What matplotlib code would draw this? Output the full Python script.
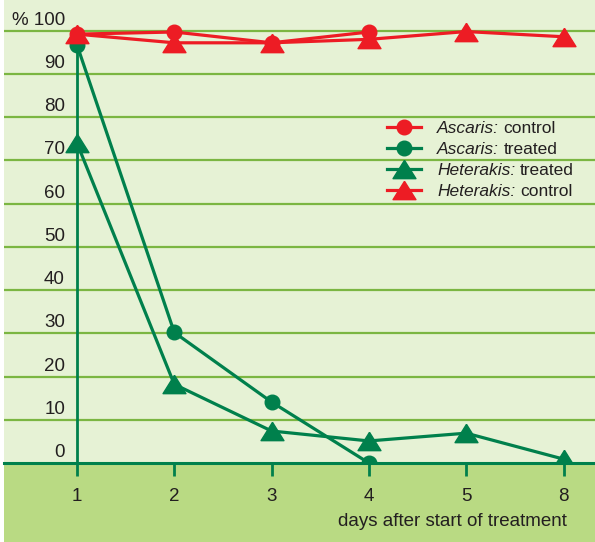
import matplotlib
matplotlib.use("Agg")
import matplotlib.pyplot as plt
import matplotlib.transforms as mtransforms
from matplotlib.patches import Rectangle
import numpy as np

plt.rcParams['font.family'] = ['Liberation Sans', 'DejaVu Sans']

# ---- data ----
days = ["1", "2", "3", "4", "5", "8"]
ascaris_days = ["1", "2", "3", "4"]
ascaris_control = [99.2, 99.7, 97.2, 99.7]
ascaris_treated = [96.7, 30.2, 14.1, 0.0]
heterakis_days = ["1", "2", "3", "4", "5", "8"]
heterakis_treated = [74.0, 18.2, 7.4, 5.1, 6.9, 0.9]
heterakis_control = [99.2, 97.2, 97.2, 98.0, 99.8, 98.6]
y_ticks = [0, 10, 20, 30, 40, 50, 60, 70, 80, 90, 100]
y_tick_labels = ["0", "10", "20", "30", "40", "50", "60", "70", "80", "90", "% 100"]
legend_species = ["Ascaris:", "Ascaris:", "Heterakis:", "Heterakis:"]
legend_status = ["control", "treated", "treated", "control"]
x_label = "days after start of treatment"

# ---- style ----
BG = "#e6f2d5"
DARK_BG = "#b9da83"
GRID = "#7bb642"
GREEN = "#00804c"
RED = "#ed1c24"
TXT = "#231f20"

W, H = 595, 542
fig = plt.figure(figsize=(W / 100, H / 100), dpi=100, facecolor=DARK_BG)
ax_left = 4 / W
ax_bottom = (H - 463) / H
ax = fig.add_axes([ax_left, ax_bottom, 1 - ax_left, 1 - ax_bottom])
ax.set_facecolor(BG)
fig.patches.append(Rectangle((0, 0), ax_left, 1, transform=fig.transFigure,
                             facecolor="white", edgecolor="none", zorder=-1))

pos = {d: i for i, d in enumerate(days)}
xa = [pos[d] for d in ascaris_days]
xh = [pos[d] for d in heterakis_days]

tri = [(0, 0.8), (-1, -0.8), (1, -0.8), (0, 0.8)]
lw = 2.3

# grid lines
for v in y_ticks[1:]:
    ax.axhline(v, color=GRID, lw=1.6, zorder=1)

# y "axis" at day 1
ax.vlines(pos[days[0]], 0, ascaris_treated[0], color=GREEN, lw=2.0, zorder=2)

l_at, = ax.plot(xa, ascaris_treated, color=GREEN, lw=lw, marker='o', ms=10.5,
                zorder=3)
l_ht, = ax.plot(xh, heterakis_treated, color=GREEN, lw=lw, marker=tri, ms=16.5,
                zorder=3)
l_hc, = ax.plot(xh, heterakis_control, color=RED, lw=lw, marker=tri, ms=16.5,
                zorder=4)
l_ac, = ax.plot(xa, ascaris_control, color=RED, lw=lw, marker='o', ms=10.5,
                zorder=4)

ax.set_xlim((4 - 77) / 97.3, (595 - 77) / 97.3)
ax.set_ylim(0, 107.1)

for s in ["top", "right", "left"]:
    ax.spines[s].set_visible(False)
ax.spines["bottom"].set_color(GREEN)
ax.spines["bottom"].set_linewidth(2.2)
ax.spines["bottom"].set_zorder(2.5)

ax.set_xticks(range(len(days)))
ax.set_xticklabels(days)
ax.tick_params(axis='x', direction='out', length=9, width=2, color=GREEN,
               pad=9, labelsize=13.5, labelcolor=TXT)
ax.set_yticks([])

off = mtransforms.ScaledTranslation(0, 6 / 100, fig.dpi_scale_trans)
for v, lab in zip(y_ticks, y_tick_labels):
    ax.text((65 - 4) / (W - 4), v, lab, transform=ax.get_yaxis_transform() + off,
            ha='right', va='baseline', fontsize=13.5, color=TXT, zorder=5)

ax.set_xlabel(x_label, fontsize=13.5, color=TXT, ha='right', va='center')
ax.xaxis.set_label_coords((567 - 4) / (W - 4), -(521 - 463) / 463)

handles = [l_ac, l_at, l_ht, l_hc]
leg = ax.legend(handles, legend_species, loc='upper left',
                bbox_to_anchor=(387 / W, 1 - 121 / H), bbox_transform=fig.transFigure,
                frameon=False, fontsize=12.5, handlelength=1.95, handletextpad=0.95,
                labelspacing=0.33, borderpad=0, borderaxespad=0)
leg.set_zorder(5)
for t, st in zip(leg.get_texts(), legend_status):
    t.set_fontstyle('italic')
    t.set_color(TXT)
    ax.annotate(st, xy=(1, 0), xycoords=t, xytext=(3, 0), textcoords='offset points',
                ha='left', va='bottom', fontsize=12.5, color=TXT, zorder=6,
                annotation_clip=False)

fig.savefig("out.png", dpi=100, facecolor=fig.get_facecolor())
